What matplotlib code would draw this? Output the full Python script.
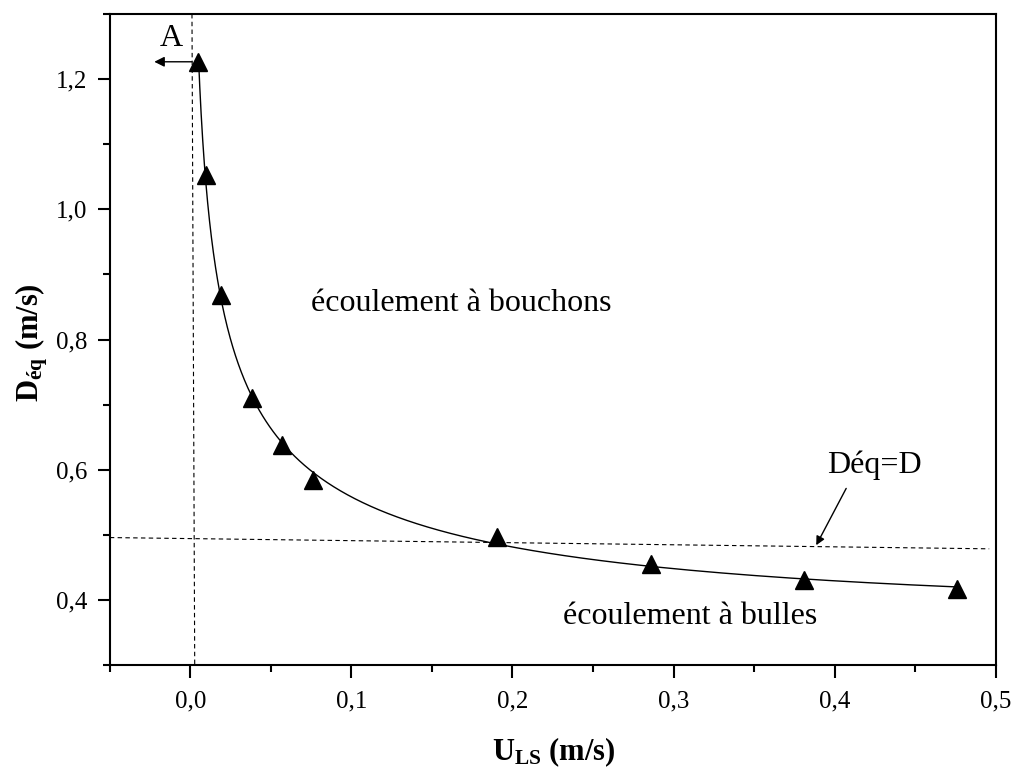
import numpy as np
import matplotlib.pyplot as plt
from matplotlib.ticker import MultipleLocator, FuncFormatter

plt.rcParams['font.family'] = ['Liberation Serif', 'DejaVu Serif']
plt.rcParams['mathtext.fontset'] = 'custom'
plt.rcParams['mathtext.rm'] = 'Liberation Serif'
plt.rcParams['mathtext.bf'] = 'Liberation Serif:bold'
plt.rcParams['mathtext.it'] = 'Liberation Serif:italic'

# measured points
u_ls = [0.005, 0.0097, 0.019, 0.038, 0.057, 0.0764, 0.1905, 0.2857, 0.3807, 0.476]
d_eq = [1.226, 1.0525, 0.868, 0.71, 0.638, 0.5845, 0.4965, 0.4553, 0.4304, 0.4166]

# transition lines
d_line_x = [-0.05, 0.496]
d_line_y = [0.4958, 0.4785]
a_line_x = [0.001, 0.0027]
a_line_y = [1.30, 0.30]

fig = plt.figure(figsize=(10.17, 7.69), dpi=100)
ax = fig.add_axes([0.108, 0.1352, 0.871, 0.8466])

# smooth trend through the points (polynomial fit in log-log space)
lx = np.log(u_ls)
ly = np.log(d_eq)
coef = np.polyfit(lx, ly, 3)
xs = np.linspace(lx[0], lx[-1], 300)
ax.plot(np.exp(xs), np.exp(np.polyval(coef, xs)), color='black', lw=1)
ax.plot(u_ls, d_eq, linestyle='none', marker='^', color='black', markersize=13)

ax.plot(d_line_x, d_line_y, color='black', lw=0.8, dashes=(4, 3))
ax.plot(a_line_x, a_line_y, color='black', lw=0.8, dashes=(4, 3))

ax.annotate('', xy=(-0.0224, 1.2266), xytext=(0.001, 1.2266),
            arrowprops=dict(arrowstyle='-|>', color='black', lw=1, mutation_scale=15,
                            shrinkA=0, shrinkB=0))
ax.text(-0.012, 1.262, 'A', fontsize=23, ha='center', va='center')

ax.annotate('', xy=(0.3886, 0.484), xytext=(0.4072, 0.5713),
            arrowprops=dict(arrowstyle='-|>', color='black', lw=1, mutation_scale=13,
                            shrinkA=0, shrinkB=0))
ax.text(0.425, 0.607, 'Déq=D', fontsize=23, ha='center', va='center')
ax.text(0.168, 0.856, 'écoulement à bouchons', fontsize=23, ha='center', va='center')
ax.text(0.3106, 0.375, 'écoulement à bulles', fontsize=23, ha='center', va='center')

ax.set_xlim(-0.05, 0.5)
ax.set_ylim(0.3, 1.3)
ax.xaxis.set_major_locator(MultipleLocator(0.1))
ax.xaxis.set_minor_locator(MultipleLocator(0.05))
ax.yaxis.set_major_locator(MultipleLocator(0.2))
ax.yaxis.set_minor_locator(MultipleLocator(0.1))
comma = FuncFormatter(lambda v, p: f'{v:.1f}'.replace('.', ','))
ax.xaxis.set_major_formatter(comma)
ax.yaxis.set_major_formatter(comma)

for s in ax.spines.values():
    s.set_linewidth(1.5)
ax.tick_params(which='major', direction='out', length=9, width=1.5, labelsize=18)
ax.tick_params(axis='x', which='major', pad=9)
ax.tick_params(axis='y', which='major', pad=7)
ax.tick_params(which='minor', direction='out', length=5, width=1.5)

ax.set_xlabel(r'$\mathbf{U_{LS}}$ (m/s)', fontsize=22, fontweight='bold')
ax.set_ylabel(r'$\mathbf{D_{éq}}$ (m/s)', fontsize=22, fontweight='bold')
ax.xaxis.set_label_coords(0.501, -0.108)
ax.yaxis.set_label_coords(-0.068, 0.496)

fig.savefig('out.png', dpi=100)
